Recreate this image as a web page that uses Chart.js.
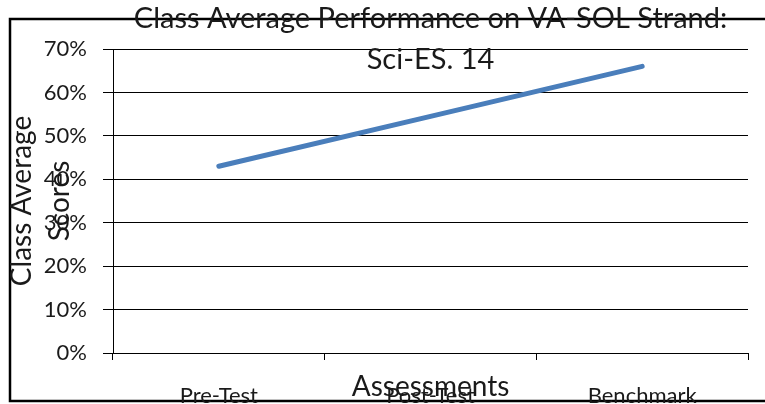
<!DOCTYPE html>
<html>
<head>
<meta charset="utf-8">
<script src="https://cdn.jsdelivr.net/npm/chart.js@4"></script>
<style>
  html, body { margin: 0; padding: 0; background: #ffffff; }
  #wrap { width: 765px; height: 404px; }
</style>
</head>
<body>
<div id="wrap"><canvas id="c" width="765" height="404"></canvas></div>
<script>
const categories = ['Pre-Test', 'Post-Test', 'Benchmark'];
const classAverage = [43, 54.5, 66];
const yTickValues = [0, 10, 20, 30, 40, 50, 60, 70];
const titleLines = ['Class Average Performance on VA-SOL Strand:', 'Sci-ES. 14'];
const yTitleLines = ['Class Average', 'Scores'];
const xTitle = 'Assessments';

const FONT = 'Lato, "Open Sans", sans-serif';

const frame = {
  id: 'frame',
  beforeDraw(chart) {
    const ctx = chart.ctx;
    ctx.save();
    ctx.fillStyle = '#ffffff';
    ctx.fillRect(0, 0, chart.width, chart.height);
    ctx.strokeStyle = '#000000';
    ctx.lineWidth = 2.5;
    ctx.strokeRect(10, 19, 900, 382);
    ctx.restore();
  }
};

new Chart(document.getElementById('c'), {
  type: 'line',
  data: {
    labels: categories,
    datasets: [{
      data: classAverage,
      borderColor: '#4a7ebb',
      borderWidth: 5,
      borderCapStyle: 'round',
      pointRadius: 0,
      tension: 0,
      fill: false
    }]
  },
  options: {
    responsive: false,
    animation: false,
    layout: { padding: { left: 0, right: 17, top: 0, bottom: 0 } },
    plugins: {
      legend: { display: false },
      tooltip: { enabled: false },
      title: {
        display: true,
        fullSize: false,
        text: titleLines,
        color: '#1a1a1a',
        font: { family: FONT, size: 29, weight: 'normal', lineHeight: '41px' },
        padding: { top: -2, bottom: -31 }
      }
    },
    scales: {
      x: {
        offset: true,
        grid: { offset: true, drawOnChartArea: false, color: '#000000', tickLength: 7, lineWidth: 1 },
        border: { color: '#000000', width: 1 },
        ticks: { color: '#1a1a1a', font: { family: FONT, size: 22 }, padding: 23, maxRotation: 0 },
        title: {
          display: true, text: xTitle, color: '#1a1a1a',
          font: { family: FONT, size: 28, lineHeight: 1.2 },
          padding: { top: 0, bottom: 0 }
        },
        afterFit(scale) { scale.height = 51; }
      },
      y: {
        min: 0, max: 70,
        afterBuildTicks(scale) { scale.ticks = yTickValues.map(v => ({ value: v })); },
        grid: { color: '#000000', tickLength: 10, lineWidth: 1 },
        border: { color: '#000000', width: 1 },
        ticks: {
          color: '#1a1a1a', font: { family: FONT, size: 22 }, padding: 16,
          callback: v => v + '%'
        },
        title: {
          display: true, text: yTitleLines, color: '#1a1a1a',
          font: { family: FONT, size: 28, lineHeight: '38px' },
          padding: { top: 3, bottom: 0 }
        },
        afterFit(scale) { scale.width = 113; }
      }
    }
  },
  plugins: [frame]
});
</script>
</body>
</html>
